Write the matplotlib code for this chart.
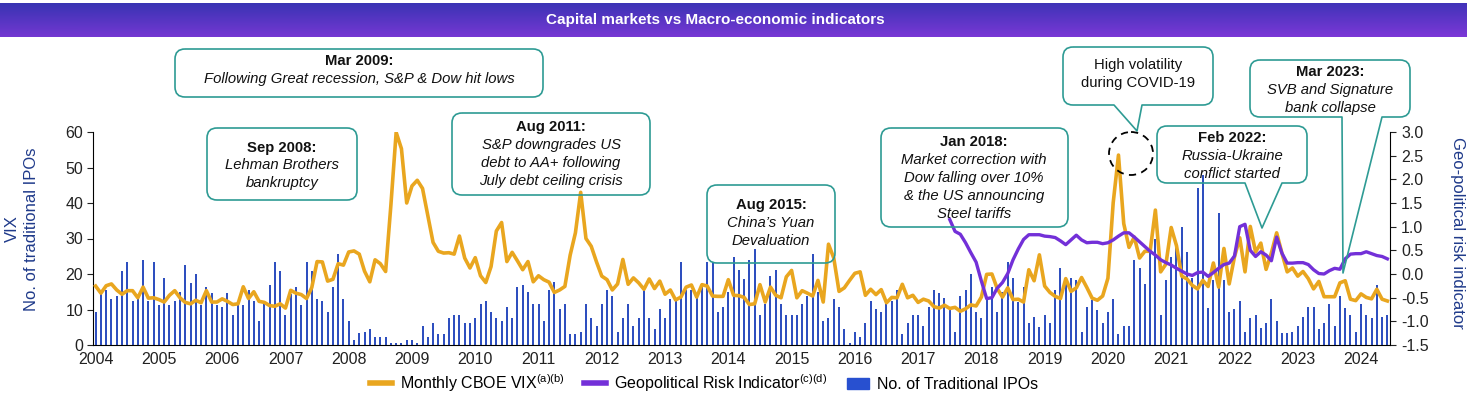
import numpy as np
import matplotlib
matplotlib.use("Agg")
import matplotlib.pyplot as plt
from matplotlib.path import Path
from matplotlib.patches import PathPatch, Ellipse, Patch
from matplotlib.lines import Line2D
from matplotlib.transforms import Affine2D

plt.rcParams["font.family"] = ["Liberation Sans", "DejaVu Sans"]
plt.rcParams["mathtext.fontset"] = "custom"
plt.rcParams["mathtext.rm"] = "Liberation Sans"
plt.rcParams["mathtext.it"] = "Liberation Sans:italic"
plt.rcParams["axes.unicode_minus"] = False

# ---- data (monthly, Jan 2004 .. Jun 2024) ----
years = list(range(2004, 2025))

vix = [
    16.6, 14.6, 16.7, 17.2, 15.5, 14.3, 15.3, 15.3, 13.3, 16.3, 13.2, 13.3,  # 2004
    12.8, 12.1, 14.0, 15.3, 13.3, 12.0, 11.6, 12.6, 11.9, 15.3, 12.1, 12.1,  # 2005
    13.0, 12.3, 11.4, 11.6, 16.4, 13.1, 15.0, 12.3, 12.0, 11.1, 10.9, 11.6,  # 2006
    10.4, 15.4, 14.6, 14.2, 13.1, 16.2, 23.5, 23.4, 18.0, 18.5, 22.9, 22.5,  # 2007
    26.2, 26.5, 25.6, 20.8, 17.8, 24.0, 22.9, 20.7, 39.4, 59.9, 55.3, 40.0,  # 2008
    44.8, 46.4, 44.1, 36.5, 28.9, 26.4, 25.9, 26.0, 25.6, 30.7, 24.5, 21.7,  # 2009
    24.6, 19.5, 17.6, 22.1, 32.1, 34.5, 23.5, 26.1, 23.7, 21.2, 23.5, 17.8,  # 2010
    19.5, 18.4, 17.7, 14.8, 15.5, 16.5, 25.3, 31.6, 43.0, 30.0, 27.8, 23.4,  # 2011
    19.4, 18.4, 15.5, 17.2, 24.1, 17.1, 18.9, 17.5, 15.7, 18.6, 15.9, 18.0,  # 2012
    14.3, 15.5, 12.7, 13.5, 16.3, 16.9, 13.5, 17.0, 16.6, 13.8, 13.7, 13.7,  # 2013
    18.4, 14.0, 13.9, 13.4, 11.4, 11.6, 17.0, 12.1, 16.3, 14.0, 13.3, 19.2,  # 2014
    21.0, 13.3, 15.3, 14.6, 13.8, 18.2, 12.1, 28.4, 24.5, 15.1, 16.1, 18.2,  # 2015
    20.2, 20.6, 14.0, 15.7, 14.2, 15.6, 11.9, 13.4, 13.3, 17.1, 13.3, 14.0,  # 2016
    12.0, 12.9, 12.4, 10.8, 10.4, 11.2, 10.3, 10.6, 9.5, 10.2, 11.3, 11.0,   # 2017
    13.5, 19.9, 20.0, 15.9, 13.5, 16.1, 12.8, 12.9, 12.1, 21.2, 18.1, 25.4,  # 2018
    16.6, 14.8, 13.7, 13.1, 18.7, 15.1, 16.1, 19.0, 16.2, 13.2, 12.6, 13.8,  # 2019
    18.8, 40.1, 53.5, 34.2, 27.5, 30.4, 24.5, 26.4, 26.4, 38.0, 20.6, 22.8,  # 2020
    33.1, 28.0, 19.4, 18.6, 16.8, 15.8, 18.2, 16.5, 23.1, 16.3, 27.2, 17.2,  # 2021
    24.8, 30.2, 20.6, 33.4, 26.2, 28.7, 21.3, 25.9, 31.6, 25.9, 20.6, 21.7,  # 2022
    19.4, 20.7, 18.7, 15.8, 17.9, 13.6, 13.6, 13.6, 17.5, 18.1, 12.9, 12.5,  # 2023
    14.4, 13.4, 13.0, 15.7, 12.9, 12.4,                                      # 2024
]

ipos = [
    9.2, 14.6, 15.5, 12.9, 13.8, 20.8, 23.5, 12.4, 13.6, 24.0, 12.5, 23.5,   # 2004
    11.4, 19.0, 11.4, 12.3, 15.0, 22.5, 17.6, 20.0, 11.4, 16.4, 14.6, 11.4,  # 2005
    10.7, 14.6, 8.5, 11.5, 11.4, 15.5, 12.3, 6.8, 11.5, 16.9, 23.5, 20.8,    # 2006
    8.5, 14.3, 16.2, 11.4, 23.5, 20.8, 13.0, 12.5, 9.3, 16.3, 25.6, 13.0,    # 2007
    6.8, 1.3, 3.3, 3.7, 4.5, 2.2, 2.2, 2.2, 0.5, 0.5, 0.5, 1.3,              # 2008
    1.3, 0.5, 5.4, 2.2, 6.2, 3.2, 3.2, 7.6, 8.5, 8.5, 6.2, 6.2,              # 2009
    7.6, 11.5, 12.4, 9.3, 7.7, 6.8, 10.8, 7.7, 16.4, 17.0, 14.8, 11.5,       # 2010
    11.5, 6.8, 15.5, 17.8, 10.1, 11.5, 3.2, 3.2, 3.8, 11.5, 7.7, 5.4,        # 2011
    11.5, 15.5, 13.8, 3.8, 7.7, 11.5, 5.4, 7.7, 15.5, 7.7, 4.6, 10.1,        # 2012
    7.7, 13.0, 12.5, 23.5, 15.5, 15.5, 13.2, 17.2, 23.5, 23.5, 9.3, 10.8,    # 2013
    14.8, 24.9, 21.1, 18.7, 24.0, 27.1, 8.5, 11.5, 19.4, 21.1, 11.5, 8.5,    # 2014
    8.5, 8.5, 11.5, 13.8, 25.6, 14.8, 6.8, 7.7, 13.0, 10.8, 4.6, 0.5,        # 2015
    3.7, 2.2, 6.1, 12.4, 10.1, 9.3, 11.5, 12.5, 15.5, 3.2, 6.1, 8.5,         # 2016
    8.5, 5.4, 10.8, 15.5, 14.6, 13.2, 10.0, 3.7, 13.9, 15.5, 20.1, 9.3,      # 2017
    7.5, 12.7, 16.4, 9.4, 15.0, 23.5, 18.8, 12.2, 16.4, 6.3, 7.8, 5.2,       # 2018
    8.5, 6.3, 15.5, 21.6, 17.8, 18.8, 18.3, 3.8, 10.8, 12.8, 9.9, 6.1,       # 2019
    9.3, 12.9, 3.2, 5.3, 5.3, 23.9, 21.6, 17.1, 25.8, 30.0, 8.5, 18.3,       # 2020
    24.9, 27.2, 33.3, 26.3, 18.8, 44.3, 48.0, 10.3, 18.3, 37.1, 18.3, 9.4,   # 2021
    10.1, 12.4, 3.8, 7.5, 8.5, 4.7, 6.3, 13.0, 6.9, 3.3, 3.3, 3.8,           # 2022
    5.4, 8.0, 10.8, 10.8, 4.4, 6.3, 11.5, 5.4, 13.9, 10.3, 8.5, 3.8,         # 2023
    11.5, 8.5, 7.5, 16.9, 7.8, 8.5,                                          # 2024
]

# geopolitical risk indicator, starts Jul 2017 (month index 162)
gpr_start = 162
gpr = [
    1.15, 0.90, 0.84, 0.66, 0.45, 0.25,                                      # 2017 H2
    -0.15, -0.52, -0.50, -0.30, -0.18, 0.01, 0.30, 0.53, 0.73, 0.83, 0.83, 0.83,  # 2018
    0.80, 0.79, 0.77, 0.70, 0.62, 0.72, 0.82, 0.72, 0.66, 0.67, 0.67, 0.64,  # 2019
    0.66, 0.72, 0.80, 0.87, 0.87, 0.78, 0.68, 0.58, 0.48, 0.40, 0.30, 0.24,  # 2020
    0.19, 0.12, 0.06, 0.00, -0.03, 0.03, 0.04, -0.05, 0.03, 0.12, 0.20, 0.23,  # 2021
    0.38, 1.00, 1.05, 0.50, 0.37, 0.47, 0.40, 0.28, 0.78, 0.44, 0.23, 0.23,  # 2022
    0.24, 0.24, 0.20, 0.09, 0.01, 0.00, 0.07, 0.12, 0.10, 0.32, 0.42, 0.43,  # 2023
    0.43, 0.47, 0.43, 0.39, 0.37, 0.32,                                      # 2024
]

ORANGE = "#E9A61F"
PURPLE = "#7330D8"
BAR = "#2E4FBF"
TEAL = "#2E9B94"
NAVY = "#1F3A8A"

W, H = 1469, 399
fig = plt.figure(figsize=(W / 100, H / 100), dpi=100)
# pixel coords, origin top-left
px = Affine2D().scale(1 / 100, -1 / 100).translate(0, H / 100) + fig.dpi_scale_trans

# ---- title banner ----
tb = fig.add_axes([0, 1 - 37 / H, 1467 / W, 34 / H])
tb.axis("off")
ny, nx = 34, 300
v = np.linspace(0, 1, ny)[:, None]
h = np.linspace(0, 1, nx)[None, :]
top = np.array([0.22, 0.20, 0.70])
bot = np.array([0.45, 0.22, 0.82])
img = top[None, None, :] * (1 - v[..., None]) + bot[None, None, :] * v[..., None]
img = img - 0.06 * (h[..., None] * np.array([-0.6, 0.0, -0.4]))
tb.imshow(np.clip(img, 0, 1), aspect="auto", extent=(0, 1, 0, 1))
fig.text(715, 20, "Capital markets vs Macro-economic indicators", transform=px,
         color="white", fontsize=11, fontweight="bold", ha="center", va="center")

# ---- main chart ----
ax = fig.add_axes([93 / W, 54 / H, 1297 / W, 213 / H])
months = np.arange(len(vix))
ax.bar(months, ipos, width=0.38, color=BAR, zorder=1)
ax.plot(months, vix, color=ORANGE, lw=2.6, solid_joinstyle="round", zorder=3)
ax.set_xlim(-0.5, len(vix) - 0.5)
ax.set_ylim(0, 60)
ax.set_yticks(range(0, 61, 10))
ax.set_xticks(range(0, len(vix), 12))
ax.set_xticklabels([str(y) for y in years])
ax.tick_params(axis="x", length=0, pad=5, labelsize=11.5, colors="#222222")
ax.tick_params(axis="y", length=4, pad=3, labelsize=11.5, colors="#222222")
ax.spines["top"].set_visible(False)
ax.spines["right"].set_visible(False)
for s in ("left", "bottom"):
    ax.spines[s].set_linewidth(0.8)

ax2 = ax.twinx()
gm = np.arange(gpr_start, gpr_start + len(gpr))
ax2.plot(gm, gpr, color=PURPLE, lw=2.4, solid_joinstyle="round", zorder=4)
ax2.set_ylim(-1.5, 3.0)
ax2.set_yticks(np.arange(-1.5, 3.01, 0.5))
ax2.set_yticklabels([f"{t:.1f}" for t in np.arange(-1.5, 3.01, 0.5)])
ax2.tick_params(axis="y", length=4, pad=4, labelsize=11.5, colors="#222222")
for s in ("top", "left", "bottom"):
    ax2.spines[s].set_visible(False)
ax2.spines["right"].set_linewidth(0.8)

# axis titles
fig.text(12, 229, "VIX", transform=px, rotation=90, color=NAVY, fontsize=12,
         ha="center", va="center")
fig.text(32, 229, "No. of traditional IPOs", transform=px, rotation=90,
         color=NAVY, fontsize=12, ha="center", va="center")
fig.text(1457, 233, "Geo-political risk indicator", transform=px, rotation=270,
         color=NAVY, fontsize=12, ha="center", va="center")

# legend
handles = [Line2D([], [], color=ORANGE, lw=4),
           Line2D([], [], color=PURPLE, lw=4),
           Patch(color="#2850D0")]
labels = [r"Monthly CBOE VIX$^{\mathrm{(a)(b)}}$",
          r"Geopolitical Risk Indicator$^{\mathrm{(c)(d)}}$",
          "No. of Traditional IPOs"]
fig.legend(handles, labels, loc="center", bbox_to_anchor=(704 / W, 1 - 383 / H),
           ncol=3, frameon=False, fontsize=11.5, handlelength=1.4,
           handletextpad=0.5, columnspacing=1.2, borderpad=0)


# ---- annotation call-outs ----
def callout(x0, y0, x1, y1, r=10, ptr=None):
    M, L, C = Path.MOVETO, Path.LINETO, Path.CURVE3
    verts = [(x0 + r, y0), (x1 - r, y0), (x1, y0), (x1, y0 + r),
             (x1, y1 - r), (x1, y1), (x1 - r, y1)]
    codes = [M, L, C, C, L, C, C]
    if ptr:
        bx0, bx1, tx, ty = ptr
        verts += [(bx1, y1), (tx, ty), (bx0, y1)]
        codes += [L, L, L]
    verts += [(x0 + r, y1), (x0, y1), (x0, y1 - r), (x0, y0 + r), (x0, y0),
              (x0 + r, y0)]
    codes += [L, C, C, L, C, C]
    fig.add_artist(PathPatch(Path(verts, codes), transform=px, fill=False,
                             edgecolor=TEAL, lw=1.2, joinstyle="round"))


def lines(xc, ys, texts, first_bold=True, italic=True):
    for i, (y, t) in enumerate(zip(ys, texts)):
        if i == 0 and first_bold:
            kw = dict(fontweight="bold")
        else:
            kw = dict(fontstyle="italic") if italic else {}
        fig.text(xc, y, t, transform=px, ha="center", va="center",
                 fontsize=10.7, color="#111111", **kw)


callout(175, 49, 543, 97)
lines(359, [61, 79], ["Mar 2009:", "Following Great recession, S&P & Dow hit lows"])

callout(207, 128, 357, 200)
lines(282, [148, 165, 183], ["Sep 2008:", "Lehman Brothers", "bankruptcy"])

callout(452, 113, 650, 195)
lines(551, [127, 145, 163, 181], ["Aug 2011:", "S&P downgrades US",
                                  "debt to AA+ following", "July debt ceiling crisis"])

callout(707, 185, 835, 263)
lines(771, [205, 223, 241], ["Aug 2015:", "China\u2019s Yuan", "Devaluation"])

callout(881, 128, 1068, 227)
lines(974, [142, 160, 178, 196, 214], ["Jan 2018:", "Market correction with",
                                       "Dow falling over 10%", "& the US announcing",
                                       "Steel tariffs"])

callout(1063, 47, 1213, 105, ptr=(1114, 1142, 1137, 131))
lines(1138, [65, 83], ["High volatility", "during COVID-19"], first_bold=False,
      italic=False)

callout(1157, 126, 1307, 183, ptr=(1245, 1282, 1262, 228))
lines(1232, [138, 156, 174], ["Feb 2022:", "Russia-Ukraine", "conflict started"])

callout(1250, 60, 1410, 117, ptr=(1342, 1382, 1343, 273))
lines(1330, [72, 90, 108], ["Mar 2023:", "SVB and Signature", "bank collapse"])

fig.add_artist(Ellipse((1131, 153.5), 44, 43, transform=px, fill=False,
                       edgecolor="black", lw=1.3, linestyle=(0, (4, 3))))

fig.savefig("out.png", dpi=100)
